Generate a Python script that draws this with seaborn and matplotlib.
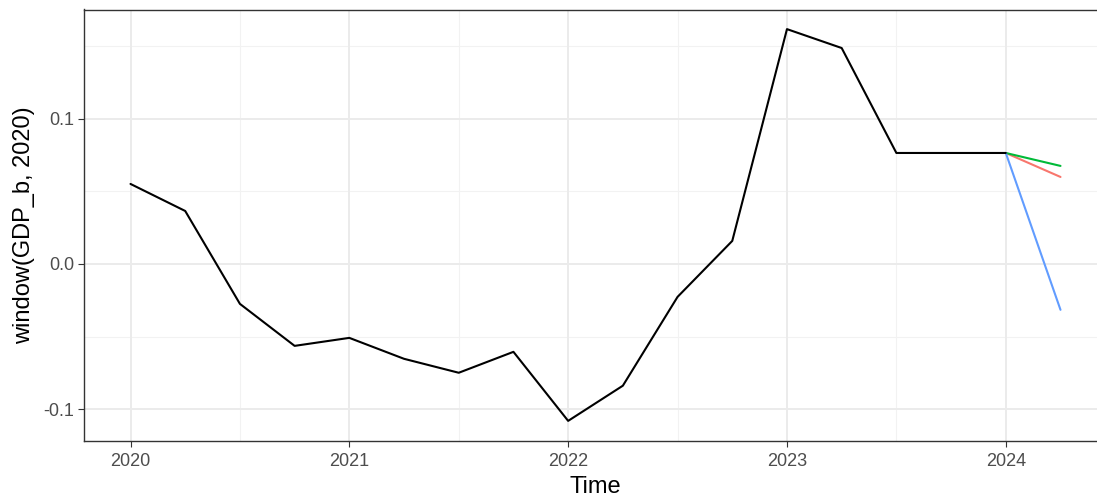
import pandas as pd
import matplotlib
matplotlib.use("Agg")
import matplotlib.pyplot as plt
import seaborn as sns

# quarterly series
time = [2020.00, 2020.25, 2020.50, 2020.75, 2021.00, 2021.25, 2021.50, 2021.75,
        2022.00, 2022.25, 2022.50, 2022.75, 2023.00, 2023.25, 2023.50, 2023.75, 2024.00]
gdp_b = [0.055, 0.0364, -0.0275, -0.0564, -0.0509, -0.0653, -0.0749, -0.0605,
         -0.108, -0.0838, -0.0227, 0.0158, 0.1615, 0.1485, 0.0763, 0.0763, 0.0763]

fc_time = [2024.00, 2024.25]
fc_red = [0.0763, 0.0598]
fc_green = [0.0763, 0.0674]
fc_blue = [0.0763, -0.0316]

x_ticks = [2020, 2021, 2022, 2023, 2024]
y_ticks = [-0.1, 0.0, 0.1]
y_labels = ["-0.1", "0.0", "0.1"]

sns.set_style("white")
plt.rcParams['font.family'] = ['Liberation Sans', 'DejaVu Sans']

df = pd.DataFrame({"Time": time, "value": gdp_b})
fc = pd.concat([
    pd.DataFrame({"Time": fc_time, "value": fc_red, "model": "red"}),
    pd.DataFrame({"Time": fc_time, "value": fc_green, "model": "green"}),
    pd.DataFrame({"Time": fc_time, "value": fc_blue, "model": "blue"}),
])
palette = {"red": "#F8766D", "green": "#00BA38", "blue": "#619CFF"}

fig = plt.figure(figsize=(10.97, 5), dpi=100)
ax = fig.add_axes([84 / 1097, 59.5 / 500, (1107 - 84) / 1097, (440.5 - 9.5) / 500])

# grid like theme_bw
for v in [2020.5, 2021.5, 2022.5, 2023.5]:
    ax.axvline(v, color="#F2F2F2", lw=0.8, zorder=0)
for v in [-0.05, 0.05, 0.15]:
    ax.axhline(v, color="#F2F2F2", lw=0.8, zorder=0)
for v in x_ticks:
    ax.axvline(v, color="#EBEBEB", lw=1.4, zorder=0)
for v in y_ticks:
    ax.axhline(v, color="#EBEBEB", lw=1.4, zorder=0)

sns.lineplot(data=fc, x="Time", y="value", hue="model", palette=palette,
             lw=1.5, legend=False, ax=ax, zorder=2)
sns.lineplot(data=df, x="Time", y="value", color="black", lw=1.5, ax=ax, zorder=3)

ax.set_xlim(2019.7875, 2024.4625)
ax.set_ylim(-0.1215, 0.175)
ax.set_xticks(x_ticks)
ax.set_xticklabels([str(t) for t in x_ticks])
ax.set_yticks(y_ticks)
ax.set_yticklabels(y_labels)
ax.tick_params(axis="both", length=4, width=0.8, color="#333333",
               labelsize=13, labelcolor="#4D4D4D", pad=3, left=True, bottom=True)
ax.tick_params(axis="x", pad=5)
ax.set_xlabel("Time", fontsize=17, color="black", labelpad=4)
ax.set_ylabel("window(GDP_b, 2020)", fontsize=17, color="black", labelpad=6)
for s in ax.spines.values():
    s.set_color("#333333")
    s.set_linewidth(1.0)

fig.savefig("out.png", dpi=100)
